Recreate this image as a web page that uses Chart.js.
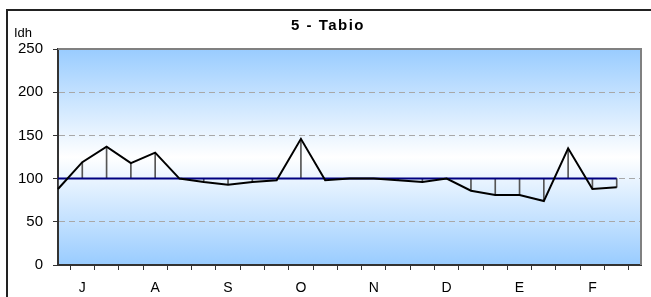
<!DOCTYPE html>
<html>
<head>
<meta charset="utf-8">
<script src="https://cdn.jsdelivr.net/npm/chart.js@4/dist/chart.umd.min.js"></script>
<style>
  html, body { margin: 0; padding: 0; background: #fff; }
  #wrap { width: 651px; height: 297px; }
</style>
</head>
<body>
<div id="wrap"><canvas id="lineChart" width="651" height="297"></canvas></div>
<script>
// categorias (meses, 3 puntos por mes)
const labels = ['', 'J', '', '', 'A', '', '', 'S', '', '', 'O', '', '', 'N', '', '', 'D', '', '', 'E', '', '', 'F', '', ''];
// Idh Tabio
const idh = [88, 119, 137, 118, 130, 100, 96, 93, 96, 98, 146, 98, 100, 100, 98, 96, 100, 86, 81, 81, 74, 135, 88, 90, null];
// linea base
const base = [100, 100, 100, 100, 100, 100, 100, 100, 100, 100, 100, 100, 100, 100, 100, 100, 100, 100, 100, 100, 100, 100, 100, 100, null];
const yTicks = [0, 50, 100, 150, 200, 250];

const fondo = {
  id: 'fondo',
  beforeDraw(chart) {
    const { ctx, chartArea: a } = chart;
    const g = ctx.createLinearGradient(0, a.top, 0, a.bottom);
    g.addColorStop(0, '#99ccff');
    g.addColorStop(0.5, '#ffffff');
    g.addColorStop(1, '#99ccff');
    ctx.save();
    ctx.fillStyle = g;
    ctx.fillRect(a.left, a.top, a.right - a.left, a.bottom - a.top);
    ctx.restore();
  },
  beforeDatasetsDraw(chart) {
    const { ctx, chartArea: a } = chart;
    ctx.save();
    ctx.strokeStyle = '#808080';
    ctx.lineWidth = 2;
    ctx.beginPath();
    ctx.moveTo(a.left, a.top);
    ctx.lineTo(a.right, a.top);
    ctx.lineTo(a.right, a.bottom);
    ctx.stroke();
    ctx.restore();
  },
  afterDraw(chart) {
    const { ctx } = chart;
    ctx.save();
    ctx.strokeStyle = '#222';
    ctx.lineWidth = 2;
    ctx.strokeRect(7, 10, 700, 400);
    ctx.fillStyle = '#000';
    ctx.textAlign = 'center';
    ctx.textBaseline = 'middle';
    ctx.font = 'bold 15px "Liberation Sans", Arial, sans-serif';
    ctx.letterSpacing = '1.5px';
    ctx.fillText('5 - Tabio', 328, 26);
    ctx.letterSpacing = '0px';
    ctx.textAlign = 'left';
    ctx.font = '13px "Liberation Sans", Arial, sans-serif';
    ctx.fillText('Idh', 14, 33);
    ctx.restore();
  }
};

const ctx = document.getElementById('lineChart');

new Chart(ctx, {
  type: 'line',
  data: {
    labels: labels,
    datasets: [{
      label: 'Idh',
      data: idh,
      borderColor: '#000',
      borderWidth: 2,
      pointRadius: 0,
      tension: 0,
      order: 0
    }, {
      label: 'Base',
      data: base,
      borderColor: '#000080',
      borderWidth: 2,
      pointRadius: 0,
      tension: 0,
      order: 1
    }, {
      type: 'bar',
      label: 'Diferencia',
      data: idh.map(v => v === null ? null : [100, v]),
      backgroundColor: '#555',
      borderWidth: 0,
      barThickness: 1,
      order: 2
    }]
  },
  options: {
    responsive: false,
    animation: false,
    layout: { padding: { top: 49, right: 3, left: 0, bottom: 0 } },
    plugins: {
      legend: { display: false },
      tooltip: { enabled: false },
      title: { display: false }
    },
    scales: {
      x: {
        offset: false,
        grid: {
          drawOnChartArea: false,
          drawTicks: true,
          tickLength: 5,
          tickColor: '#333'
        },
        border: { color: '#333', width: 2 },
        ticks: {
          autoSkip: false,
          maxRotation: 0,
          padding: 10,
          color: '#000',
          font: { family: '"Liberation Sans", Arial, sans-serif', size: 14 }
        },
        afterFit(scale) { scale.height = 32; }
      },
      y: {
        min: 0,
        max: 250,
        afterBuildTicks(scale) { scale.ticks = yTicks.map(v => ({ value: v })); },
        grid: {
          color: c => (c.tick && (c.tick.value === 0 || c.tick.value === 250)) ? 'rgba(0,0,0,0)' : '#a8a8a8',
          tickColor: '#333',
          tickLength: 5,
          lineWidth: 1
        },
        border: { color: '#333', width: 2, dash: [6, 4] },
        ticks: {
          padding: 10,
          color: '#000',
          font: { family: '"Liberation Sans", Arial, sans-serif', size: 15 }
        },
        afterFit(scale) { scale.width = 58; }
      }
    }
  },
  plugins: [fondo]
});
</script>
</body>
</html>
